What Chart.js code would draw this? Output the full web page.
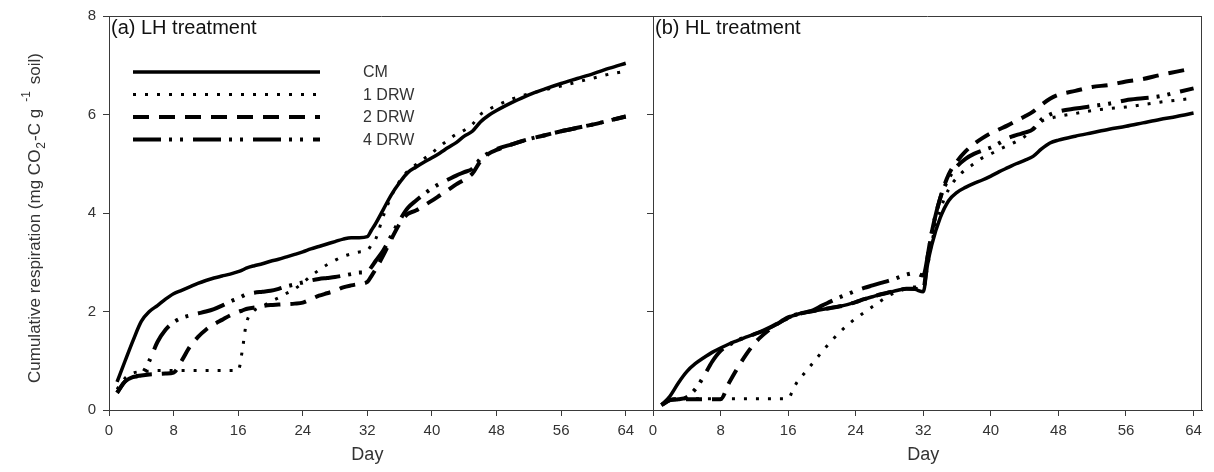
<!DOCTYPE html>
<html><head><meta charset="utf-8">
<script src="https://cdn.jsdelivr.net/npm/chart.js@4.4.0/dist/chart.umd.min.js"></script>
<style>
html,body{margin:0;padding:0;background:#fff;}
#wrap{position:relative;width:1214px;height:472px;overflow:hidden;background:#fff;}
canvas{position:absolute;top:0;}
</style></head><body>
<div id="wrap">
<canvas id="ca" width="660" height="472" style="left:0px"></canvas>
<canvas id="cb" width="614" height="472" style="left:600px"></canvas>
</div>
<script>
// ---- data ----
const days = [1,2,3,4,5,6,7,8,9,10,11,12,13,14,15,16,16.5,17,18,19,20,21,22,23,24,25,26,27,28,29,30,31,32,32.5,33,34,35,36,37,38,39,40,41,42,43,44,45,46,47,48,50,52,54,56,58,60,62,64];
const xTickLabels = [0,8,16,24,32,40,48,56,64];
const yTickLabels = [0,2,4,6,8];
const seriesNames = ['CM','1 DRW','2 DRW','4 DRW'];
const panelTitles = ['(a) LH treatment','(b) HL treatment'];
const xTitle = 'Day';

// (a) LH treatment
const lhCM   = [0.57,1.0,1.42,1.8,2.0,2.12,2.25,2.36,2.43,2.5,2.57,2.63,2.68,2.72,2.76,2.81,2.84,2.88,2.93,2.97,3.02,3.06,3.11,3.16,3.21,3.27,3.32,3.37,3.42,3.47,3.5,3.5,3.52,3.65,3.78,4.08,4.38,4.62,4.82,4.93,5.03,5.12,5.22,5.33,5.43,5.56,5.66,5.85,5.98,6.08,6.25,6.4,6.52,6.63,6.73,6.83,6.94,7.04];
const lh1DRW = [0.42,0.65,0.75,0.78,0.79,0.8,0.8,0.8,0.8,0.8,0.8,0.8,0.8,0.8,0.8,0.8,1.2,1.75,2.02,2.1,2.2,2.28,2.37,2.46,2.58,2.72,2.84,2.95,3.04,3.12,3.17,3.21,3.24,3.35,3.46,3.95,4.35,4.65,4.85,4.98,5.1,5.22,5.36,5.48,5.6,5.68,5.8,6.0,6.1,6.18,6.32,6.42,6.5,6.58,6.66,6.74,6.82,6.88];
const lh2DRW = [0.35,0.58,0.67,0.7,0.72,0.73,0.74,0.76,1.0,1.28,1.48,1.63,1.74,1.83,1.92,1.99,2.02,2.05,2.08,2.11,2.13,2.14,2.15,2.16,2.18,2.25,2.32,2.37,2.42,2.49,2.53,2.56,2.6,2.72,2.85,3.15,3.48,3.78,3.98,4.05,4.15,4.25,4.36,4.47,4.58,4.68,4.8,5.05,5.2,5.28,5.4,5.5,5.58,5.66,5.73,5.8,5.88,5.96];
const lh4DRW = [0.35,0.58,0.67,0.72,1.0,1.38,1.63,1.78,1.87,1.92,1.96,2.0,2.05,2.12,2.2,2.27,2.31,2.35,2.38,2.4,2.42,2.46,2.51,2.55,2.59,2.63,2.66,2.68,2.7,2.73,2.76,2.79,2.8,2.9,3.02,3.25,3.55,3.85,4.1,4.25,4.38,4.5,4.6,4.68,4.76,4.83,4.9,5.1,5.22,5.3,5.4,5.5,5.58,5.66,5.73,5.8,5.88,5.96];

// (b) HL treatment
const hlCM   = [0.1,0.28,0.55,0.78,0.94,1.06,1.17,1.26,1.34,1.41,1.48,1.54,1.6,1.68,1.77,1.87,1.91,1.94,1.98,2.01,2.04,2.07,2.1,2.14,2.19,2.25,2.3,2.35,2.39,2.43,2.46,2.45,2.4,2.95,3.35,3.9,4.25,4.42,4.52,4.6,4.67,4.75,4.84,4.92,5.0,5.07,5.15,5.3,5.42,5.48,5.56,5.63,5.7,5.76,5.83,5.9,5.96,6.03];
const hl1DRW = [0.1,0.2,0.23,0.23,0.23,0.23,0.23,0.23,0.23,0.23,0.23,0.23,0.23,0.23,0.23,0.23,0.38,0.55,0.76,0.97,1.18,1.38,1.56,1.72,1.86,1.98,2.1,2.22,2.33,2.41,2.47,2.5,2.5,2.9,3.4,4.05,4.48,4.72,4.88,5.0,5.12,5.2,5.29,5.37,5.45,5.55,5.72,5.86,5.92,5.96,6.02,6.08,6.12,6.15,6.2,6.25,6.29,6.33];
const hl2DRW = [0.1,0.2,0.22,0.22,0.22,0.22,0.22,0.22,0.55,0.85,1.12,1.35,1.52,1.66,1.78,1.88,1.91,1.94,1.98,2.01,2.04,2.07,2.1,2.14,2.19,2.25,2.3,2.35,2.39,2.43,2.46,2.46,2.45,3.1,3.6,4.3,4.78,5.05,5.25,5.4,5.52,5.62,5.7,5.78,5.87,5.96,6.06,6.2,6.32,6.4,6.48,6.56,6.6,6.67,6.72,6.8,6.87,6.94];
const hl4DRW = [0.1,0.2,0.22,0.26,0.42,0.68,0.98,1.2,1.32,1.41,1.48,1.54,1.61,1.69,1.78,1.87,1.91,1.94,1.98,2.03,2.12,2.2,2.28,2.35,2.42,2.48,2.53,2.58,2.63,2.69,2.75,2.78,2.73,3.1,3.6,4.3,4.7,4.95,5.1,5.2,5.27,5.33,5.42,5.52,5.58,5.63,5.7,5.9,6.0,6.06,6.12,6.17,6.22,6.29,6.33,6.37,6.45,6.53];

// ---- styles ----
const FONT = '"Liberation Sans", Arial, sans-serif';
const lineStyles = [
  {dash: [], width: 3.5},
  {dash: [3, 9], width: 3},
  {dash: [16, 10], width: 4},
  {dash: [28, 8, 3, 8, 3, 10], width: 4}
];
const axisColor = '#3a3a3a';
const textColor = '#333';

function buildDatasets(arrs){
  return arrs.map((vals, i) => ({
    label: seriesNames[i],
    data: days.map((d, j) => ({x: d, y: vals[j]})),
    borderColor: '#000',
    backgroundColor: '#000',
    borderWidth: lineStyles[i].width,
    borderDash: lineStyles[i].dash,
    borderCapStyle: 'butt',
    pointRadius: 0,
    cubicInterpolationMode: 'monotone',
    fill: false
  }));
}

function drawYTitle(ctx){
  const segs = [
    {t:'Cumulative respiration (mg CO', s:17, dy:0, gap:0},
    {t:'2', s:12, dy:5, gap:1},
    {t:'-C g', s:17, dy:0, gap:1},
    {t:'-1', s:12, dy:-10, gap:7},
    {t:'soil)', s:17, dy:0, gap:7}
  ];
  ctx.save();
  let total = 0;
  segs.forEach(sg => { ctx.font = sg.s + 'px ' + FONT; sg.w = ctx.measureText(sg.t).width; total += sg.w + sg.gap; });
  ctx.translate(40, 218);
  ctx.rotate(-Math.PI/2);
  ctx.fillStyle = textColor;
  ctx.textBaseline = 'alphabetic';
  ctx.textAlign = 'left';
  let x = -total/2;
  segs.forEach(sg => { x += sg.gap; ctx.font = sg.s + 'px ' + FONT; ctx.fillText(sg.t, x, sg.dy); x += sg.w; });
  ctx.restore();
}

function makePanel(canvasId, arrs, panelIdx, xMax, yWidth, padRight){
  const isLeft = panelIdx === 0;
  const decor = {
    id: 'decor' + panelIdx,
    afterDraw(chart){
      const ctx = chart.ctx, a = chart.chartArea;
      ctx.save();
      ctx.strokeStyle = axisColor; ctx.lineWidth = 1;
      ctx.beginPath();
      ctx.moveTo(a.left, a.top + 0.5); ctx.lineTo(a.right, a.top + 0.5);
      if (!isLeft) { ctx.moveTo(a.right - 0.5, a.top); ctx.lineTo(a.right - 0.5, a.bottom); }
      ctx.stroke();
      // panel title
      ctx.fillStyle = '#111';
      ctx.font = '20px ' + FONT;
      ctx.textBaseline = 'middle'; ctx.textAlign = 'left';
      ctx.fillText(panelTitles[panelIdx], a.left + 2, 28);
      // x title
      ctx.fillStyle = textColor;
      ctx.font = '18px ' + FONT;
      ctx.textAlign = 'center';
      ctx.fillText(xTitle, chart.scales.x.getPixelForValue(32), 455);
      if (isLeft) {
        // legend
        chart.data.datasets.forEach((ds, i) => {
          const y = 72 + i * 22.5;
          ctx.save();
          ctx.strokeStyle = '#000';
          ctx.lineWidth = ds.borderWidth;
          ctx.setLineDash(ds.borderDash);
          ctx.lineCap = 'butt';
          ctx.beginPath(); ctx.moveTo(133, y); ctx.lineTo(320, y); ctx.stroke();
          ctx.restore();
          ctx.fillStyle = textColor;
          ctx.font = '16px ' + FONT;
          ctx.textAlign = 'left'; ctx.textBaseline = 'middle';
          ctx.fillText(ds.label, 363, y + 1);
        });
        drawYTitle(ctx);
      }
      ctx.restore();
    }
  };
  return new Chart(document.getElementById(canvasId), {
    type: 'line',
    data: {datasets: buildDatasets(arrs)},
    options: {
      responsive: false,
      animation: false,
      devicePixelRatio: 1,
      layout: {padding: {left: 0, right: padRight, top: 14, bottom: 0}},
      plugins: {legend: {display: false}, tooltip: {enabled: false}},
      scales: {
        x: {
          type: 'linear', min: 0, max: xMax,
          afterBuildTicks: s => { s.ticks = xTickLabels.map(v => ({value: v})); },
          afterFit: s => { s.height = 62; },
          grid: {display: true, drawOnChartArea: false, drawTicks: true, tickLength: 6, color: axisColor, lineWidth: 1},
          border: {display: true, color: axisColor, width: 1},
          ticks: {font: {family: FONT, size: 15}, color: textColor, padding: 6, maxRotation: 0, autoSkip: false}
        },
        y: {
          type: 'linear', min: 0, max: 8,
          afterBuildTicks: s => { s.ticks = yTickLabels.map(v => ({value: v})); },
          afterFit: s => { s.width = yWidth; },
          grid: {display: true, drawOnChartArea: false, drawTicks: true, tickLength: 6, color: axisColor, lineWidth: 1},
          border: {display: true, color: axisColor, width: 1},
          ticks: {font: {family: FONT, size: 15}, color: textColor, padding: 7,
                  callback: v => isLeft ? String(v) : ''}
        }
      }
    },
    plugins: [decor]
  });
}

makePanel('ca', [lhCM, lh1DRW, lh2DRW, lh4DRW], 0, 67.5, 109, 6);
makePanel('cb', [hlCM, hl1DRW, hl2DRW, hl4DRW], 1, 65, 53, 12);
</script>
</body></html>
